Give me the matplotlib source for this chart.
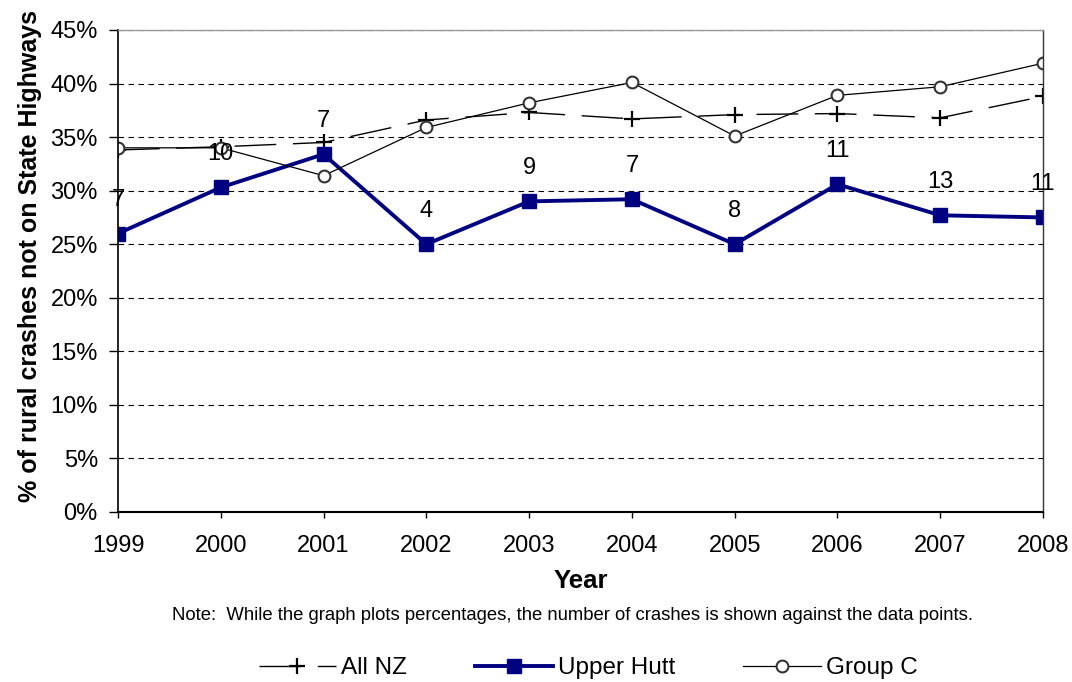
import numpy as np
import matplotlib.pyplot as plt
from matplotlib.ticker import PercentFormatter

plt.rcParams['font.family'] = ['Liberation Sans', 'DejaVu Sans']

years = [1999, 2000, 2001, 2002, 2003, 2004, 2005, 2006, 2007, 2008]
all_nz = [33.8, 34.1, 34.5, 36.6, 37.3, 36.7, 37.1, 37.2, 36.8, 38.8]
upper_hutt = [26.0, 30.3, 33.4, 25.0, 29.0, 29.2, 25.0, 30.6, 27.7, 27.5]
group_c = [34.0, 34.0, 31.4, 35.9, 38.2, 40.1, 35.1, 38.9, 39.7, 41.9]
crash_counts = [7, 10, 7, 4, 9, 7, 8, 11, 13, 11]

fig = plt.figure(figsize=(10.72, 6.82), dpi=100)
ax = fig.add_axes([118 / 1072, 1 - 512 / 682, (1043 - 118) / 1072, (512 - 30) / 682])

ax.plot(years, all_nz, color='black', lw=1, dashes=(30, 12), marker='+',
        ms=11, mew=1.6, label='All NZ')
ax.plot(years, upper_hutt, color='#000080', lw=2.8, marker='s', ms=10,
        label='Upper Hutt')
ax.plot(years, group_c, color='black', lw=0.9, marker='o', ms=8.5,
        mfc='white', mec='#333333', mew=1.5, label='Group C')

# crash counts shown above the Upper Hutt points
for x, y, n in zip(years, upper_hutt, crash_counts):
    ax.annotate(str(n), (x, y), xytext=(0, 24), textcoords='offset points',
                ha='center', va='center', fontsize=17)

ax.set_xlim(1999, 2008)
ax.set_ylim(0, 45)
ax.set_xticks(years)
ax.set_yticks(np.arange(0, 46, 5))
ax.yaxis.set_major_formatter(PercentFormatter(decimals=0))
ax.tick_params(labelsize=17, direction='out', width=1)
ax.tick_params(axis='x', length=4.5, pad=12)
ax.tick_params(axis='y', length=6.5, pad=8)
ax.grid(axis='y', color='black', ls=(0, (5, 4)), lw=0.8)
ax.set_axisbelow(True)
ax.spines['top'].set_color('#999999')
ax.spines['top'].set_linewidth(1)
ax.spines['right'].set_color('#333333')
ax.spines['right'].set_linewidth(1)
ax.spines['left'].set_linewidth(1.2)
ax.spines['bottom'].set_linewidth(1.5)

ax.set_xlabel('Year', fontsize=18.5, fontweight='bold', labelpad=9)
ax.set_ylabel('% of rural crashes not on State Highways', fontsize=18,
              fontweight='bold')
ax.yaxis.set_label_coords(-0.0825, 0.531)

fig.text(572.5 / 1072, 1 - 615 / 682,
         'Note:  While the graph plots percentages, the number of crashes is shown against the data points.',
         ha='center', va='center', fontsize=13.3)

fig.legend(loc='center', bbox_to_anchor=(588 / 1072, 1 - 668 / 682), ncol=3,
           frameon=False, fontsize=17.5, handlelength=3.2, columnspacing=2.8,
           handletextpad=0.2)

fig.savefig('out.png', dpi=100)
